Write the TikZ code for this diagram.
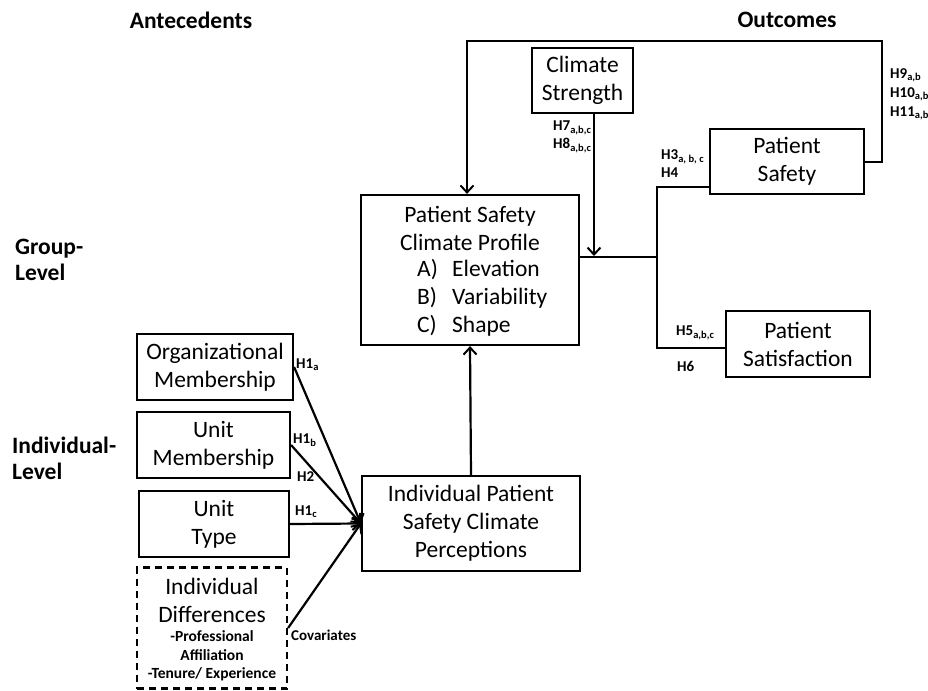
\documentclass[tikz,border=0pt]{standalone}
\usepackage{fontspec}
\setmainfont{Carlito}
\usetikzlibrary{arrows.meta}
\tikzset{
  box/.style={draw, line width=2.2pt, inner sep=0pt, align=center, font=\fontsize{23.5}{28}\selectfont},
  dbox/.style={box, dash pattern=on 7pt off 5pt},
  txt/.style={inner sep=0pt, align=center, font=\fontsize{23.5}{28}\selectfont},
  head/.style={inner sep=0pt, align=left, font=\bfseries\fontsize{23.5}{26}\selectfont},
  lab/.style={inner sep=0pt, anchor=west, align=left, font=\bfseries\fontsize{15}{18}\selectfont},
  con/.style={line width=2.2pt},
  arr/.style={con, -{Straight Barb[length=7pt,width=13pt,line width=2pt]}},
}
\begin{document}
\begin{tikzpicture}[x=1pt,y=-1pt]
\useasboundingbox (0,0) rectangle (928,690);
% headings
\node[head] (ante) at (191,20) {Antecedents};
\node[head] (outc) at (787,20) {Outcomes};
\node[head, anchor=west] (grp) at (15,260) {Group-\\Level};
\node[head, anchor=west] (indl) at (12,458) {Individual-\\Level};
% boxes
\node[box, minimum width=101pt, minimum height=65pt] (cs) at (582.5,80.5) {Climate\\Strength};
\node[box, minimum width=154pt, minimum height=65pt] (ps) at (787,161.5) {Patient\\Safety};
\node[box, minimum width=144pt, minimum height=66pt] (sat) at (798,344) {Patient\\Satisfaction};
\node[box, minimum width=218pt, minimum height=150pt] (prof) at (470,270) {};
\node[txt] (proftitle) at (470,228) {Patient Safety\\Climate Profile};
\node[txt, anchor=west, align=left] (profitems) at (417,298) {\makebox[35pt][l]{A)}Elevation\\\makebox[35pt][l]{B)}Variability\\\makebox[35pt][l]{C)}Shape};
\node[box, minimum width=156pt, minimum height=66pt] (org) at (215,367) {Organizational\\Membership};
\node[box, minimum width=153pt, minimum height=66pt] (um) at (213.5,445) {Unit\\Membership};
\node[box, minimum width=150pt, minimum height=66pt] (ut) at (214,524) {Unit\\Type};
\node[dbox, minimum width=150pt, minimum height=121pt] (diff) at (212,628) {};
\node[txt] (difftitle) at (212,600) {Individual\\Differences};
\node[inner sep=0pt, align=center, font=\bfseries\fontsize{15.5}{18.5}\selectfont] (diffsub) at (212,656) {-Professional\\Affiliation\\-Tenure/ Experience};
\node[box, minimum width=218pt, minimum height=95pt] (ind) at (471,523.5) {Individual Patient\\Safety Climate\\Perceptions};
% coordinates
\coordinate (mod) at (594,256);
\coordinate (hub) at (657,257);
\coordinate (psj) at (657,187);
\coordinate (satj) at (657,348);
\coordinate (fb1) at (882,162);
\coordinate (fb2) at (882,41);
\coordinate (fb3) at (467,41);
% connectors
\draw[arr] (org.east) -- (ind.west);
\draw[arr] (um.east) -- (ind.west);
\draw[arr] (ut.east) -- (ind.west);
\draw[arr] (diff.east) -- (ind.west);
\draw[arr] (ind.north) -- (prof.south);
\draw[arr] (cs.south -| mod) -- (mod);
\draw[con] (prof.east |- hub) -- (hub);
\draw[con] (ps.west |- psj) -- (psj) -- (satj) -- (sat.west |- satj);
\draw[arr] (ps.east |- fb1) -- (fb1) -- (fb2) -- (fb3) -- (fb3 |- prof.north);
% labels
\node[lab] (h78) at (553,137) {H7\textsubscript{a,b,c}\\H8\textsubscript{a,b,c}};
\node[lab, font=\bfseries\fontsize{15}{19}\selectfont] (h911) at (890,94) {H9\textsubscript{a,b}\\H10\textsubscript{a,b}\\H11\textsubscript{a,b}};
\node[lab] (h34) at (661,164) {H3\textsubscript{a, b, c}\\H4};
\node[lab] (h5) at (676,333) {H5\textsubscript{a,b,c}};
\node[lab] (h6) at (677,366) {H6};
\node[lab] (h1a) at (296,365) {H1\textsubscript{a}};
\node[lab] (h1b) at (293,440) {H1\textsubscript{b}};
\node[lab] (h2) at (297,477) {H2};
\node[lab] (h1c) at (295,512) {H1\textsubscript{c}};
\node[lab] (cov) at (291,635) {Covariates};
\end{tikzpicture}
\end{document}
